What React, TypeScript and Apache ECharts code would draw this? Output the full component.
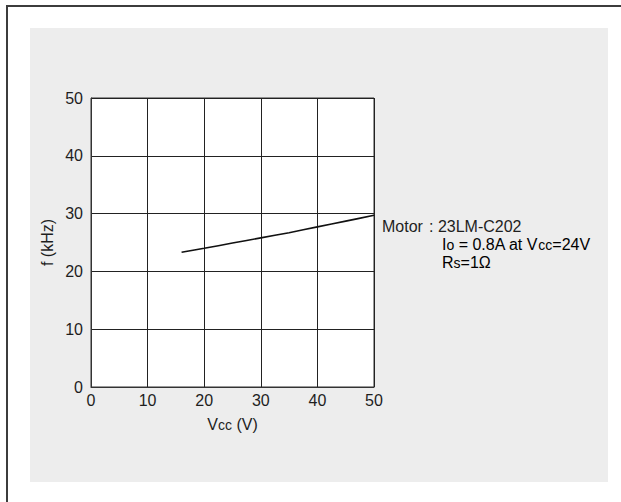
import React, { useEffect, useRef } from "react";
import * as echarts from "echarts";

const vcc = [16, 20, 25, 30, 35, 40, 45, 50];
const freq = [23.3, 24.0, 24.9, 25.8, 26.7, 27.7, 28.7, 29.7];
const xTicks = [0, 10, 20, 30, 40, 50];
const yTicks = [0, 10, 20, 30, 40, 50];

const FONT = "'Liberation Sans', Arial, sans-serif";
const TXT = "#1e1e1e";
const FS = 16;

export default function App() {
  const ref = useRef<HTMLDivElement>(null);
  useEffect(() => {
    if (!ref.current) return;
    const chart = echarts.init(ref.current, undefined, { renderer: "svg" });
    const big = { fontSize: FS, fontFamily: FONT, color: TXT, verticalAlign: "bottom", lineHeight: 18 };
    const small = { fontSize: 14, fontFamily: FONT, color: TXT, verticalAlign: "bottom", lineHeight: 18 };
    chart.setOption({
      animation: false,
      backgroundColor: "transparent",
      grid: {
        left: 91,
        top: 98,
        width: 283,
        height: 289,
        show: true,
        backgroundColor: "#ffffff",
        borderColor: "#333",
        borderWidth: 1,
      },
      xAxis: {
        type: "value",
        min: xTicks[0],
        max: xTicks[xTicks.length - 1],
        interval: 10,
        axisLine: { show: true, lineStyle: { color: "#333", width: 1 } },
        axisTick: { show: false },
        splitLine: { show: true, lineStyle: { color: "#222", width: 1 } },
        axisLabel: { fontSize: FS, fontFamily: FONT, color: TXT, margin: 5 },
        name: "{b|V}{s|cc}{b| (V)}",
        nameLocation: "middle",
        nameGap: 27,
        nameTextStyle: { rich: { b: big, s: small } },
      },
      yAxis: {
        type: "value",
        min: yTicks[0],
        max: yTicks[yTicks.length - 1],
        interval: 10,
        axisLine: { show: true, lineStyle: { color: "#333", width: 1 } },
        axisTick: { show: false },
        splitLine: { show: true, lineStyle: { color: "#222", width: 1 } },
        axisLabel: { fontSize: FS, fontFamily: FONT, color: TXT, margin: 8 },
        name: "f (kHz)",
        nameLocation: "middle",
        nameRotate: 90,
        nameGap: 36,
        nameTextStyle: { fontSize: FS, fontFamily: FONT, color: TXT },
      },
      series: [
        {
          type: "line",
          data: vcc.map((v, i) => [v, freq[i]]),
          showSymbol: false,
          smooth: 0.3,
          lineStyle: { color: "#111", width: 1.6 },
          clip: false,
        },
      ],
      graphic: [
        {
          type: "text",
          left: 382,
          top: 218,
          style: { text: "Motor", fontSize: FS, fontFamily: FONT, fill: TXT },
        },
        {
          type: "text",
          left: 429,
          top: 218,
          style: { text: ": 23LM-C202", fontSize: FS, fontFamily: FONT, fill: TXT },
        },
        {
          type: "text",
          left: 442,
          top: 236,
          style: {
            text: "{b|I}{s|o}{b| = 0.8A at V}{s|cc}{b|=24V}\n{b|R}{s|s}{b|=1Ω}",
            rich: { b: big, s: small },
          },
        },
      ],
    });
    return () => chart.dispose();
  }, []);

  return (
    <div style={{ position: "fixed", left: 0, top: 0, width: 621, height: 502, background: "#fff", overflow: "hidden" }}>
      <div style={{ position: "absolute", left: 30, top: 28, width: 578, height: 454, background: "#ededed" }} />
      <div style={{ position: "absolute", left: 6, top: 5, width: 615, height: 497, borderLeft: "2px solid #3c3c3c", borderTop: "2px solid #3c3c3c", boxSizing: "border-box" }} />
      <div ref={ref} style={{ position: "absolute", left: 0, top: 0, width: 621, height: 502 }} />
    </div>
  );
}
